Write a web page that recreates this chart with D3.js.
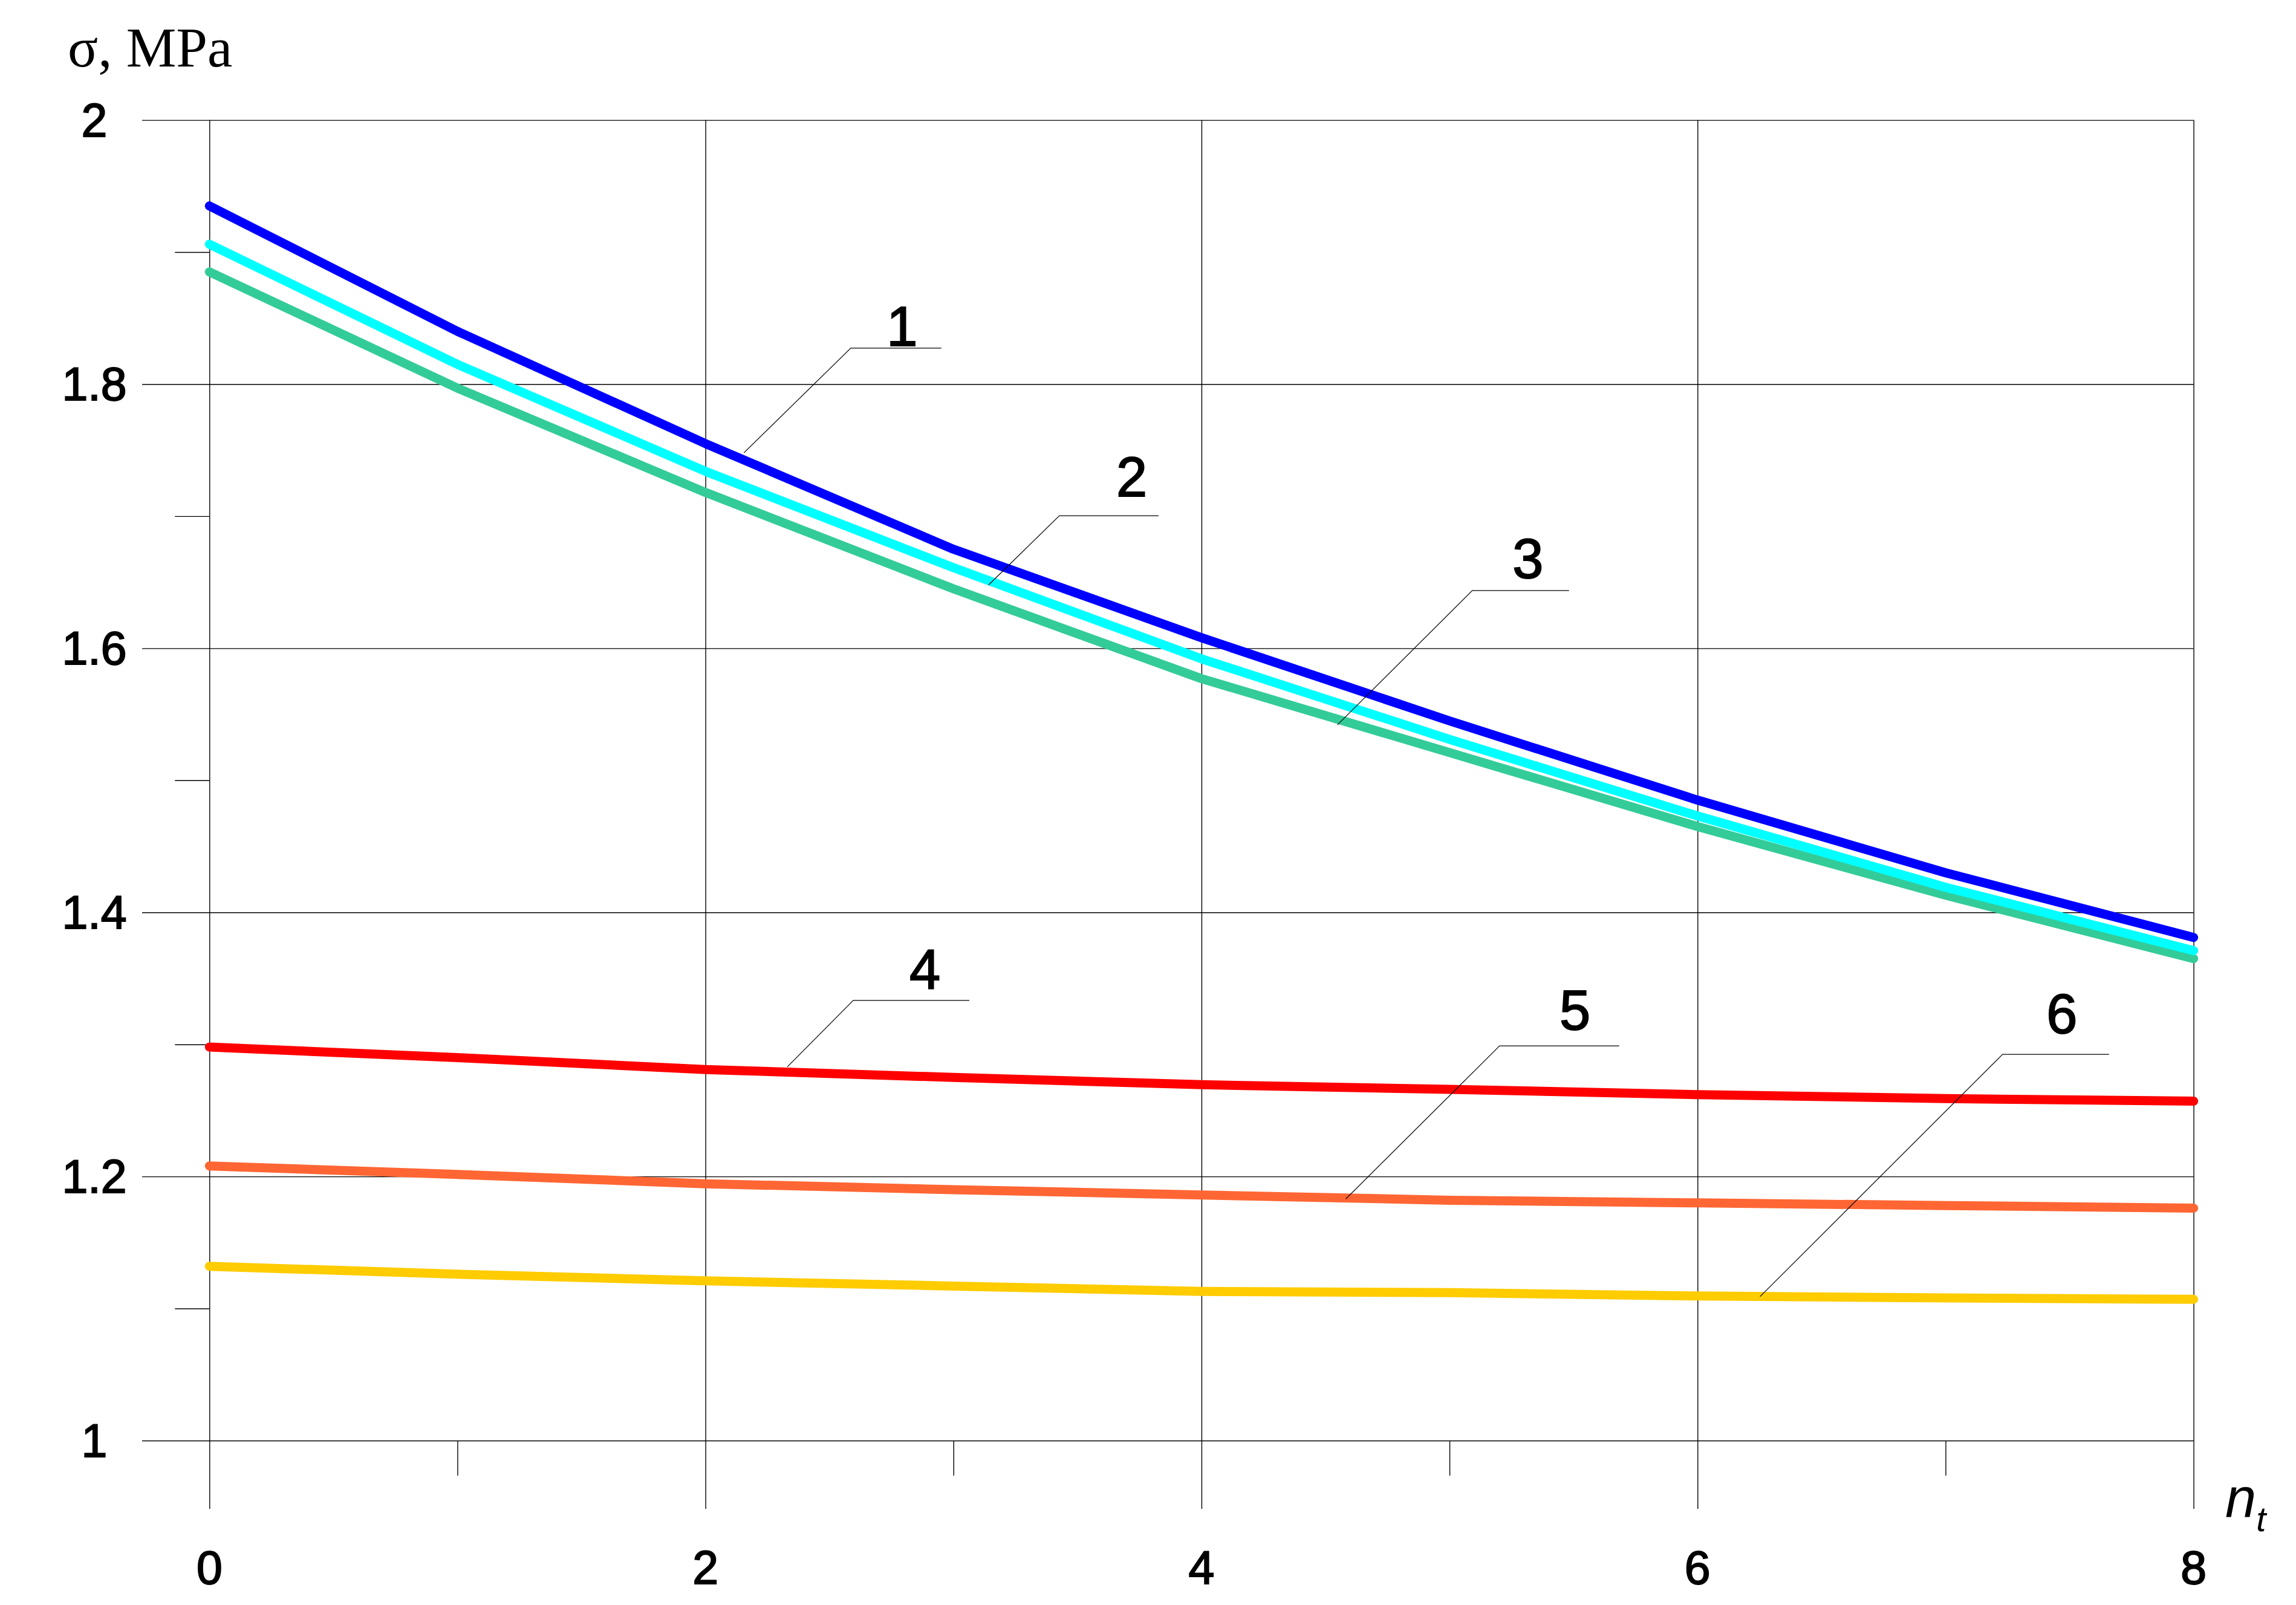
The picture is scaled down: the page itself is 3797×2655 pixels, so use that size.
<!DOCTYPE html>
<html>
<head>
<meta charset="utf-8">
<script src="https://cdn.jsdelivr.net/npm/d3@7/dist/d3.min.js"></script>
<style>
  html, body { margin: 0; padding: 0; background: #ffffff; }
  svg { display: block; }
</style>
</head>
<body>
<script>
// ---------------- data ----------------
const nt = [0, 1, 2, 3, 4, 5, 6, 7, 8];
const series1 = [1.935, 1.840, 1.755, 1.675, 1.608, 1.545, 1.485, 1.430, 1.381];
const series2 = [1.906, 1.815, 1.734, 1.661, 1.592, 1.531, 1.473, 1.419, 1.371];
const series3 = [1.885, 1.797, 1.718, 1.645, 1.577, 1.521, 1.465, 1.413, 1.365];
const series4 = [1.298, 1.290, 1.281, 1.275, 1.2695, 1.266, 1.262, 1.259, 1.257];
const series5 = [1.208, 1.2015, 1.1945, 1.190, 1.186, 1.182, 1.180, 1.178, 1.176];
const series6 = [1.132, 1.126, 1.121, 1.117, 1.113, 1.112, 1.1095, 1.108, 1.107];
const seriesNames = ["1", "2", "3", "4", "5", "6"];

const xMajorTicks = [0, 2, 4, 6, 8];
const xTickLabels = ["0", "2", "4", "6", "8"];
const xMinorTicks = [1, 3, 5, 7];
const yMajorTicks = [1, 1.2, 1.4, 1.6, 1.8, 2];
const yTickLabels = ["1", "1.2", "1.4", "1.6", "1.8", "2"];
const yMinorTicks = [1.1, 1.3, 1.5, 1.7, 1.9];

// callout leaders in data coordinates: end on curve, elbow, right end x, text anchor
const calloutEndX   = [2.155, 3.142, 4.548, 2.330, 4.582, 6.252];
const calloutEndY   = [1.748, 1.648, 1.542, 1.283, 1.183, 1.109];
const calloutElbowX = [2.586, 3.427, 5.092, 2.596, 5.202, 7.230];
const calloutElbowY = [1.8273, 1.7004, 1.6437, 1.3333, 1.2989, 1.2925];
const calloutRightX = [2.951, 3.827, 5.482, 3.064, 5.684, 7.659];
const calloutTextX  = [2.793, 3.719, 5.316, 2.885, 5.506, 7.469];
const calloutTextY  = [1.829, 1.7151, 1.6533, 1.3424, 1.3113, 1.3085];

// ---------------- styles ----------------
const seriesColors = ["#0000FF", "#00FFFF", "#33CC99", "#FF0000", "#FF6633", "#FFCC00"];
const W = 3797, H = 2655;
const plotLeft = 346.3, plotRight = 3627.6, plotTop = 198.6, plotBottom = 2383;
const gridLeft = 235;       // horizontal gridlines extend left of the axis
const vGridBottom = 2496;   // vertical major gridlines extend below the axis
const sans = "'Liberation Sans', Arial, Helvetica, sans-serif";
const serif = "'Liberation Serif', 'Times New Roman', serif";

const svg = d3.select("body").append("svg")
  .attr("width", W).attr("height", H)
  .attr("viewBox", `0 0 ${W} ${H}`);

svg.append("rect").attr("width", W).attr("height", H).attr("fill", "#fff");

const x = d3.scaleLinear().domain([0, 8]).range([plotLeft, plotRight]);
const y = d3.scaleLinear().domain([1, 2]).range([plotBottom, plotTop]);

function styleAxis(g) {
  g.select(".domain").remove();
  g.selectAll(".tick line").attr("stroke", "#000").attr("stroke-width", 1.4);
  g.selectAll(".tick text").remove();
}

// horizontal gridlines
svg.append("g")
  .attr("transform", `translate(${gridLeft},0)`)
  .call(d3.axisRight(y).tickValues(yMajorTicks).tickSize(plotRight - gridLeft))
  .call(styleAxis);

// vertical gridlines
svg.append("g")
  .attr("transform", `translate(0,${plotTop})`)
  .call(d3.axisBottom(x).tickValues(xMajorTicks).tickSize(vGridBottom - plotTop))
  .call(styleAxis);

// minor ticks on y axis
svg.append("g")
  .attr("transform", `translate(${plotLeft},0)`)
  .call(d3.axisLeft(y).tickValues(yMinorTicks).tickSize(57))
  .call(styleAxis);

// minor ticks on x axis
svg.append("g")
  .attr("transform", `translate(0,${plotBottom})`)
  .call(d3.axisBottom(x).tickValues(xMinorTicks).tickSize(58))
  .call(styleAxis);

// tick labels
svg.append("g").selectAll("text")
  .data(xMajorTicks)
  .join("text")
  .attr("x", d => x(d))
  .attr("y", 2620)
  .attr("text-anchor", "middle")
  .attr("font-family", sans)
  .attr("font-size", 77)
  .attr("fill", "#000")
  .attr("stroke", "#000")
  .attr("stroke-width", 2)
  .text((d, i) => xTickLabels[i]);

svg.append("g").selectAll("text")
  .data(yMajorTicks)
  .join("text")
  .attr("x", 156)
  .attr("y", d => y(d) + 27)
  .attr("text-anchor", "middle")
  .attr("font-family", sans)
  .attr("font-size", 77)
  .attr("fill", "#000")
  .attr("stroke", "#000")
  .attr("stroke-width", 2)
  .text((d, i) => yTickLabels[i]);

// axis titles
svg.append("text")
  .attr("x", 112).attr("y", 110)
  .attr("font-family", serif)
  .attr("font-size", 93)
  .attr("fill", "#000")
  .text("σ, MPa");

const xt = svg.append("text")
  .attr("x", 3680).attr("y", 2510)
  .attr("font-family", sans)
  .attr("font-style", "italic")
  .attr("font-size", 92)
  .attr("fill", "#000");
xt.append("tspan").text("n");
xt.append("tspan").attr("font-size", 58).attr("dy", 23).text("t");

// curves
const allSeries = [series1, series2, series3, series4, series5, series6];
const line = d3.line()
  .x((d, i) => x(nt[i]))
  .y(d => y(d))
  .curve(d3.curveLinear);

const order = [2, 1, 0, 5, 4, 3];
svg.append("g").selectAll("path")
  .data(order)
  .join("path")
  .attr("d", k => line(allSeries[k]))
  .attr("fill", "none")
  .attr("stroke", k => seriesColors[k])
  .attr("stroke-width", 15)
  .attr("stroke-linecap", "round")
  .attr("stroke-linejoin", "round");

// callouts
const callouts = svg.append("g");
seriesNames.forEach((name, i) => {
  callouts.append("polyline")
    .attr("points", [
      [x(calloutEndX[i]), y(calloutEndY[i])],
      [x(calloutElbowX[i]), y(calloutElbowY[i])],
      [x(calloutRightX[i]), y(calloutElbowY[i])]
    ].map(p => p.join(",")).join(" "))
    .attr("fill", "none")
    .attr("stroke", "#000")
    .attr("stroke-width", 1.2);
  callouts.append("text")
    .attr("x", x(calloutTextX[i]))
    .attr("y", y(calloutTextY[i]))
    .attr("text-anchor", "middle")
    .attr("font-family", sans)
    .attr("font-size", 92)
    .attr("fill", "#000")
    .attr("stroke", "#000")
    .attr("stroke-width", 2)
    .text(name);
});
</script>
</body>
</html>
